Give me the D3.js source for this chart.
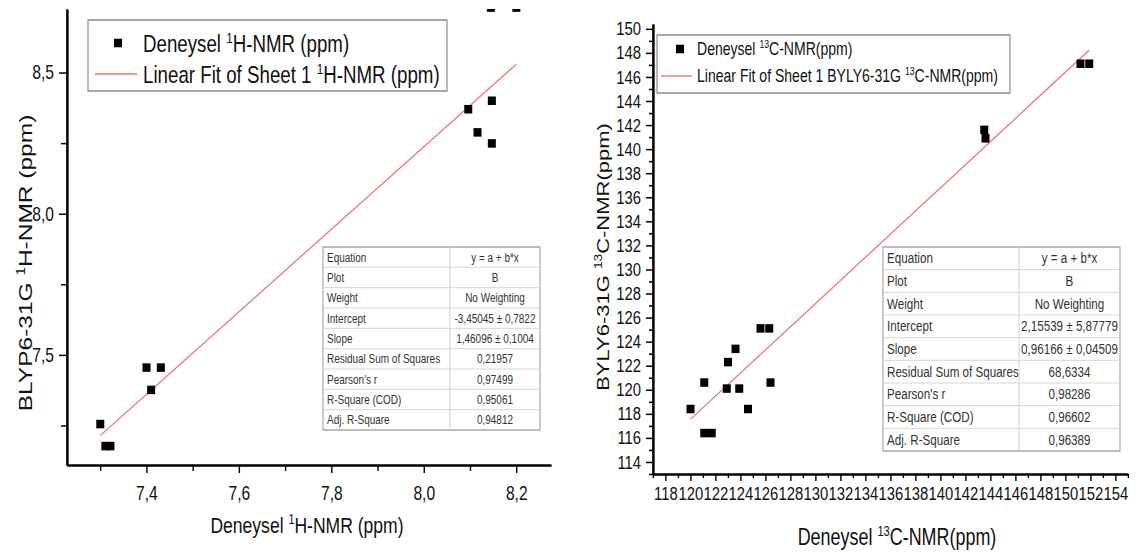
<!DOCTYPE html>
<html>
<head>
<meta charset="utf-8">
<script src="https://cdn.jsdelivr.net/npm/d3@7"></script>
<style>
  html, body { margin: 0; padding: 0; background: #fff; }
  svg { display: block; }
  text { font-family: "Liberation Sans", Arial, sans-serif; }
</style>
</head>
<body>
<svg id="chart" width="1139" height="553"></svg>
<script>
// ---------------- DATA ----------------
// Left panel: 1H-NMR (experimental vs BLYP6-31G)
const hExp  = [7.30, 7.311, 7.322, 7.40, 7.431, 7.41, 8.096, 8.147, 8.116, 8.147, 8.145, 8.20];
const hCalc = [7.255, 7.177, 7.177, 7.455, 7.455, 7.376, 8.37, 8.40, 8.288, 8.249, 8.73, 8.73];
const hFitIntercept = -3.45045;
const hFitSlope = 1.46096;
const hFitRange = [7.30, 8.20];
const hXTicks = [7.4, 7.6, 7.8, 8.0, 8.2];
const hXMinor = [7.3, 7.5, 7.7, 7.9, 8.1];
const hYTicks = [7.5, 8.0, 8.5];
const hYMinor = [7.25, 7.75, 8.25];
const hTableLabels = ["Equation", "Plot", "Weight", "Intercept", "Slope", "Residual Sum of Squares", "Pearson's r", "R-Square (COD)", "Adj. R-Square"];
const hTableValues = ["y = a + b*x", "B", "No Weighting", "-3,45045 \u00b1 0,7822", "1,46096 \u00b1 0,1004", "0,21957", "0,97499", "0,95061", "0,94812"];

// Right panel: 13C-NMR (experimental vs BYLY6-31G)
const cExp  = [120.0, 121.1, 121.1, 121.7, 122.9, 123.9, 124.6, 126.4, 123.0, 123.6, 125.6, 126.3, 143.5, 143.6, 151.2, 151.9];
const cCalc = [118.4, 120.6, 116.4, 116.4, 120.1, 120.1, 118.4, 120.6, 122.3, 123.4, 125.1, 125.1, 141.6, 140.9, 147.1, 147.1];
const cFitIntercept = 2.15539;
const cFitSlope = 0.96166;
const cFitRange = [120.0, 151.9];
const cXTicks = [118, 120, 122, 124, 126, 128, 130, 132, 134, 136, 138, 140, 142, 144, 146, 148, 150, 152, 154];
const cYTicks = [114, 116, 118, 120, 122, 124, 126, 128, 130, 132, 134, 136, 138, 140, 142, 144, 146, 148, 150];
const cTableLabels = ["Equation", "Plot", "Weight", "Intercept", "Slope", "Residual Sum of Squares", "Pearson's r", "R-Square (COD)", "Adj. R-Square"];
const cTableValues = ["y = a + b*x", "B", "No Weighting", "2,15539 \u00b1 5,87779", "0,96166 \u00b1 0,04509", "68,6334", "0,98286", "0,96602", "0,96389"];

// ---------------- LAYOUT ----------------
const SX = 0.78;                // horizontal squeeze of the original picture
const fx = v => v / SX;         // final pixel -> group coordinate
const FONT = '"Liberation Sans", Arial, sans-serif';
const RED = "#f07272";

const locale = d3.formatLocale({decimal: ",", thousands: ".", grouping: [3], currency: ["", ""]});
const fmt1 = locale.format(".1f");
const fmt0 = locale.format("d");

const svg = d3.select("#chart");
svg.append("rect").attr("width", 1139).attr("height", 553).attr("fill", "#fff");
const g = svg.append("g").attr("transform", `scale(${SX},1)`);

function richText(parent, x, y, parts, size, anchor) {
  const t = parent.append("text").attr("x", x).attr("y", y)
    .attr("font-size", size).attr("font-family", FONT).attr("fill", "#111")
    .attr("text-anchor", anchor || "start");
  let shifted = false;
  parts.forEach(([s, sup]) => {
    const ts = t.append("tspan").text(s);
    if (sup) { ts.attr("font-size", size * 0.62).attr("dy", -size * 0.38); shifted = true; }
    else if (shifted) { ts.attr("dy", size * 0.38); shifted = false; }
  });
  return t;
}

function styleAxis(sel, fontSize, domainW, tickW) {
  sel.attr("font-family", FONT).attr("font-size", fontSize);
  sel.selectAll("text").attr("fill", "#111");
  sel.select(".domain").attr("stroke", "#000").attr("stroke-width", domainW);
  sel.selectAll(".tick line").attr("stroke", "#000").attr("stroke-width", tickW);
}

function drawTable(x0, y0, w, h, splitX, labels, values, fontSize) {
  const tg = g.append("g");
  const rh = h / labels.length;
  tg.append("rect").attr("x", fx(x0)).attr("y", y0).attr("width", fx(w)).attr("height", h)
    .attr("fill", "#fff").attr("stroke", "#9a9a9a").attr("stroke-width", 1.3);
  labels.forEach((lab, i) => {
    if (i > 0) {
      tg.append("line").attr("x1", fx(x0)).attr("x2", fx(x0 + w))
        .attr("y1", y0 + i * rh).attr("y2", y0 + i * rh)
        .attr("stroke", "#d0d0d0").attr("stroke-width", 1);
    }
    tg.append("text").attr("x", fx(x0 + 4)).attr("y", y0 + i * rh + rh * 0.72)
      .attr("font-size", fontSize).attr("font-family", FONT).attr("fill", "#333").text(lab);
    tg.append("text").attr("x", fx((splitX + x0 + w) / 2)).attr("y", y0 + i * rh + rh * 0.72)
      .attr("text-anchor", "middle")
      .attr("font-size", fontSize).attr("font-family", FONT).attr("fill", "#333").text(values[i]);
  });
  tg.append("line").attr("x1", fx(splitX)).attr("x2", fx(splitX)).attr("y1", y0).attr("y2", y0 + h)
    .attr("stroke", "#d0d0d0").attr("stroke-width", 1.3);
}

// ================= LEFT PANEL =================
const xL = d3.scaleLinear().domain([7.228, 8.275]).range([fx(67), fx(551)]);
const yL = d3.scaleLinear().domain([7.11, 8.725]).range([465, 9]);

svg.append("defs").append("clipPath").attr("id", "clipL")
  .append("rect").attr("x", fx(67)).attr("y", 9).attr("width", fx(484)).attr("height", 456);

// minor ticks
g.append("g").attr("transform", "translate(0,465)")
  .call(d3.axisBottom(xL).tickValues(hXMinor).tickFormat("").tickSize(6).tickSizeOuter(0))
  .call(s => styleAxis(s, 20, 2, 1.8));
g.append("g").attr("transform", `translate(${fx(67)},0)`)
  .call(d3.axisLeft(yL).tickValues(hYMinor).tickFormat("").tickSize(fx(6)).tickSizeOuter(0))
  .call(s => styleAxis(s, 20, 2.6, 1.5));
// major ticks
g.append("g").attr("transform", "translate(0,465)")
  .call(d3.axisBottom(xL).tickValues(hXTicks).tickFormat(fmt1).tickSize(8).tickPadding(13).tickSizeOuter(0))
  .call(s => styleAxis(s, 20, 2, 1.8));
g.append("g").attr("transform", `translate(${fx(67)},0)`)
  .call(d3.axisLeft(yL).tickValues(hYTicks).tickFormat(fmt1).tickSize(fx(8)).tickPadding(fx(5)).tickSizeOuter(0))
  .call(s => styleAxis(s, 20, 2.6, 1.5));

// table (under the line)
drawTable(323, 247, 217, 183, 450, hTableLabels, hTableValues, 12.8);

// fit line
const lineL = d3.line().x(d => xL(d)).y(d => yL(hFitIntercept + hFitSlope * d));
g.append("path").datum(hFitRange).attr("d", lineL)
  .attr("fill", "none").attr("stroke", RED).attr("stroke-width", 1.4);

// points
const PW = fx(8), PH = 8.5;
g.append("g").attr("clip-path", "url(#clipL)").selectAll("rect")
  .data(hExp.map((v, i) => [v, hCalc[i]])).join("rect")
  .attr("x", d => xL(d[0]) - PW / 2).attr("y", d => yL(d[1]) - PH / 2)
  .attr("width", PW).attr("height", PH).attr("fill", "#000");

// legend
g.append("rect").attr("x", fx(88)).attr("y", 20).attr("width", fx(359)).attr("height", 71)
  .attr("fill", "#fff").attr("stroke", "#8a8a8a").attr("stroke-width", 1.5);
g.append("rect").attr("x", fx(118) - PW / 2).attr("y", 43 - PH / 2).attr("width", PW).attr("height", PH).attr("fill", "#000");
g.append("line").attr("x1", fx(95)).attr("x2", fx(137)).attr("y1", 74).attr("y2", 74)
  .attr("stroke", RED).attr("stroke-width", 1.4);
richText(g, fx(143), 52, [["Deneysel "], ["1", true], ["H-NMR (ppm)"]], 24);
richText(g, fx(143), 83, [["Linear Fit of Sheet 1 "], ["1", true], ["H-NMR (ppm)"]], 24);

// axis titles
richText(g, fx(307), 533, [["Deneysel "], ["1", true], ["H-NMR (ppm)"]], 22.5, "middle");
richText(g.append("g").attr("transform", `translate(${fx(32)},263) rotate(-90)`), 0, 0,
  [["BLYP6-31G "], ["1", true], ["H-NMR (ppm)"]], 24.5, "middle");

// ================= RIGHT PANEL =================
const xR = d3.scaleLinear().domain([117, 155]).range([fx(653), fx(1128)]);
const yR = d3.scaleLinear().domain([113, 150.4]).range([474, 24]);
const cXMinor = d3.range(117, 156, 1).filter(v => cXTicks.indexOf(v) < 0);
const cYMinor = d3.range(113, 151, 1).filter(v => cYTicks.indexOf(v) < 0);

g.append("g").attr("transform", "translate(0,474)")
  .call(d3.axisBottom(xR).tickValues(cXMinor).tickFormat("").tickSize(4).tickSizeOuter(0))
  .call(s => styleAxis(s, 19, 2, 1.8));
g.append("g").attr("transform", `translate(${fx(653)},0)`)
  .call(d3.axisLeft(yR).tickValues(cYMinor).tickFormat("").tickSize(fx(4)).tickSizeOuter(0))
  .call(s => styleAxis(s, 19, 2.6, 1.5));
g.append("g").attr("transform", "translate(0,474)")
  .call(d3.axisBottom(xR).tickValues(cXTicks).tickFormat(fmt0).tickSize(7).tickPadding(6).tickSizeOuter(0))
  .call(s => styleAxis(s, 19, 2, 1.8));
g.append("g").attr("transform", `translate(${fx(653)},0)`)
  .call(d3.axisLeft(yR).tickValues(cYTicks).tickFormat(fmt0).tickSize(fx(7)).tickPadding(fx(5)).tickSizeOuter(0))
  .call(s => styleAxis(s, 19, 2.6, 1.5));

drawTable(883, 247, 237, 204, 1019, cTableLabels, cTableValues, 14.9);

const lineR = d3.line().x(d => xR(d)).y(d => yR(cFitIntercept + cFitSlope * d));
g.append("path").datum(cFitRange).attr("d", lineR)
  .attr("fill", "none").attr("stroke", RED).attr("stroke-width", 1.4);

g.append("g").selectAll("rect")
  .data(cExp.map((v, i) => [v, cCalc[i]])).join("rect")
  .attr("x", d => xR(d[0]) - PW / 2).attr("y", d => yR(d[1]) - PH / 2)
  .attr("width", PW).attr("height", PH).attr("fill", "#000");

g.append("rect").attr("x", fx(657)).attr("y", 35).attr("width", fx(353)).attr("height", 58)
  .attr("fill", "#fff").attr("stroke", "#8a8a8a").attr("stroke-width", 1.5);
g.append("rect").attr("x", fx(680) - PW / 2).attr("y", 49 - PH / 2).attr("width", PW).attr("height", PH).attr("fill", "#000");
g.append("line").attr("x1", fx(661)).attr("x2", fx(692)).attr("y1", 76).attr("y2", 76)
  .attr("stroke", RED).attr("stroke-width", 1.4);
richText(g, fx(697), 55, [["Deneysel "], ["13", true], ["C-NMR(ppm)"]], 18);
richText(g, fx(697), 82, [["Linear Fit of Sheet 1 BYLY6-31G "], ["13", true], ["C-NMR(ppm)"]], 18);

richText(g, fx(897), 545, [["Deneysel "], ["13", true], ["C-NMR(ppm)"]], 23, "middle");
richText(g.append("g").attr("transform", `translate(${fx(609)},257) rotate(-90)`), 0, 0,
  [["BYLY6-31G "], ["13", true], ["C-NMR(ppm)"]], 22, "middle");
</script>
</body>
</html>
